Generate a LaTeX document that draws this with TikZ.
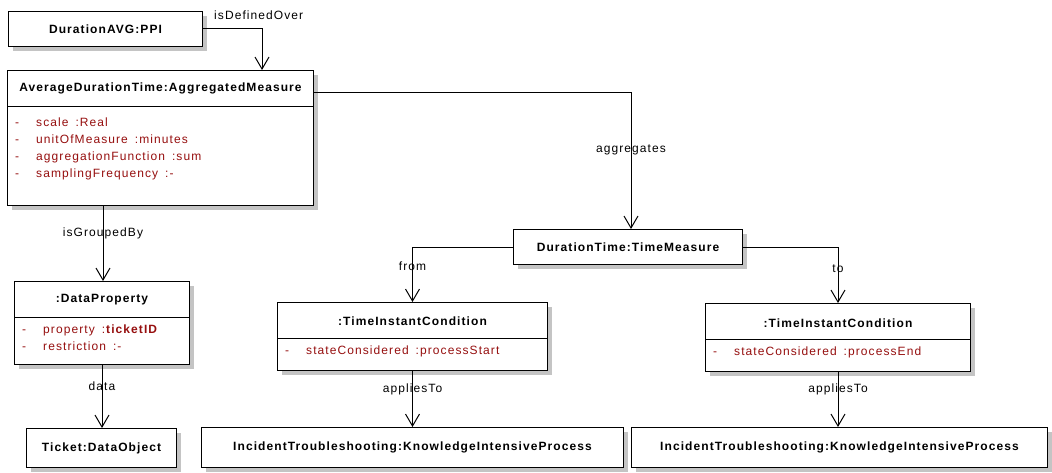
\documentclass[tikz,border=0pt]{standalone}
\usepackage{fontspec}
\setmainfont{Liberation Sans}[LetterSpace=9]
\usetikzlibrary{arrows.meta,shadows}
\definecolor{attrred}{HTML}{960F0F}
\definecolor{shade}{HTML}{C4C4C4}
\newcommand{\typesep}{\hspace{7pt}}
\begin{document}
\begin{tikzpicture}[x=1pt,y=-1pt,
  box/.style={draw, line width=1pt, fill=white, anchor=north west, inner sep=0pt,
    drop shadow={shadow xshift=4pt, shadow yshift=-4pt, fill=shade, opacity=1}},
  title/.style={font=\fontsize{12}{14}\selectfont\bfseries, inner sep=0pt},
  attr/.style={font=\fontsize{12}{14}\selectfont, text=attrred, anchor=west, inner sep=0pt,
    text height=8.6pt, text depth=2.6pt},
  lbl/.style={font=\fontsize{12}{14}\selectfont, inner sep=0pt},
  conn/.style={line width=1pt, -{Straight Barb[length=12pt,width=14pt,line width=1pt]}},
  sep/.style={line width=1pt}]
\useasboundingbox (0,0) rectangle (1052,472);

% ---- boxes ----
\node[box, minimum width=194pt, minimum height=35pt] (ppi) at (8,11) {};
\node[title] at (ppi.center) {DurationAVG:PPI};

\node[box, minimum width=306pt, minimum height=135pt] (agg) at (7,70) {};
\draw[sep] ([yshift=-36pt]agg.north west) -- ([yshift=-36pt]agg.north east);
\node[title] at ([yshift=-18pt]agg.north) {AverageDurationTime:AggregatedMeasure};
\foreach \n/\t [count=\i] in {scale/Real, unitOfMeasure/minutes, aggregationFunction/sum, samplingFrequency/-}{
  \node[attr] at ([xshift=8pt,yshift=-36pt-17pt-17pt*(\i-1)]agg.north west) {-};
  \node[attr] at ([xshift=29pt,yshift=-36pt-17pt-17pt*(\i-1)]agg.north west) {\n\typesep:\t};
}

\node[box, minimum width=175pt, minimum height=83pt] (dp) at (14,281) {};
\draw[sep] ([yshift=-36pt]dp.north west) -- ([yshift=-36pt]dp.north east);
\node[title] at ([yshift=-19pt]dp.north) {:DataProperty};
\node[attr] at ([xshift=8pt,yshift=-49pt]dp.north west) {-};
\node[attr] at ([xshift=29pt,yshift=-49pt]dp.north west) {property\typesep:\textbf{ticketID}};
\node[attr] at ([xshift=8pt,yshift=-66pt]dp.north west) {-};
\node[attr] at ([xshift=29pt,yshift=-66pt]dp.north west) {restriction\typesep:-};

\node[box, minimum width=150pt, minimum height=39pt] (tick) at (26,428) {};
\node[title] at (tick.center) {Ticket:DataObject};

\node[box, minimum width=229pt, minimum height=35pt] (dur) at (513,229) {};
\node[title] at (dur.center) {DurationTime:TimeMeasure};

\node[box, minimum width=270pt, minimum height=68pt] (ticA) at (277,302) {};
\draw[sep] ([yshift=-36pt]ticA.north west) -- ([yshift=-36pt]ticA.north east);
\node[title] at ([yshift=-19pt]ticA.north) {:TimeInstantCondition};
\node[attr] at ([xshift=8pt,yshift=-49pt]ticA.north west) {-};
\node[attr] at ([xshift=29pt,yshift=-49pt]ticA.north west) {stateConsidered\typesep:processStart};

\node[box, minimum width=265pt, minimum height=68pt] (ticB) at (705,303) {};
\draw[sep] ([yshift=-36pt]ticB.north west) -- ([yshift=-36pt]ticB.north east);
\node[title] at ([yshift=-20pt]ticB.north) {:TimeInstantCondition};
\node[attr] at ([xshift=8pt,yshift=-49pt]ticB.north west) {-};
\node[attr] at ([xshift=29pt,yshift=-49pt]ticB.north west) {stateConsidered\typesep:processEnd};

\node[box, minimum width=422pt, minimum height=40pt] (kipA) at (201,427) {};
\node[title] at (kipA.center) {IncidentTroubleshooting:KnowledgeIntensiveProcess};

\node[box, minimum width=416pt, minimum height=40pt] (kipB) at (631,427) {};
\node[title] at (kipB.center) {IncidentTroubleshooting:KnowledgeIntensiveProcess};

% ---- connectors ----
\draw[conn] ([yshift=1pt]ppi.east) -| ([xshift=255pt]agg.north west);
\node[lbl, anchor=west] at ([xshift=11pt,yshift=-4pt]ppi.north east) {isDefinedOver};

\draw[conn] ([yshift=-22pt]agg.north east) -| ([xshift=118pt]dur.north west)
  node[lbl, pos=0.712] {aggregates};

\draw[conn] ([xshift=96pt]agg.south west) -- ([xshift=96pt]agg.south west |- dp.north)
  node[lbl, pos=0.368] {isGroupedBy};

\draw[conn] (dp.south) -- (dp.south |- tick.north)
  node[lbl, pos=0.344] {data};

\draw[conn] (dur.west) -| (ticA.north)
  node[lbl, pos=0.673] {from};

\draw[conn] (dur.east) -| (ticB.north)
  node[lbl, pos=0.693] {to};

\draw[conn] (ticA.south) -- (ticA.south |- kipA.north)
  node[lbl, pos=0.333] {appliesTo};

\draw[conn] (ticB.south) -- (ticB.south |- kipB.north)
  node[lbl, pos=0.32] {appliesTo};
\end{tikzpicture}
\end{document}
